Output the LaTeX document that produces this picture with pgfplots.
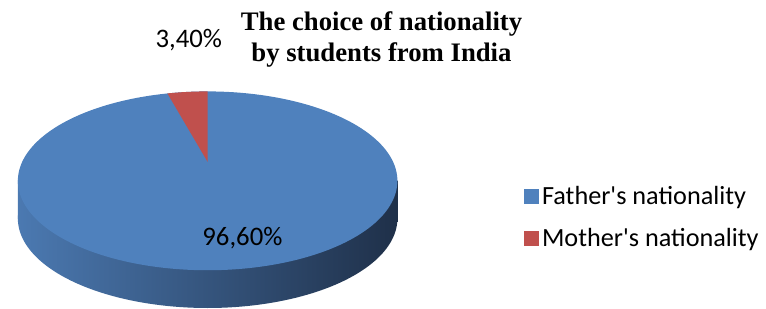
\documentclass[border=0pt]{standalone}
\usepackage{pgfplots}
\usepackage{pgfplotstable}
\pgfplotsset{compat=1.18}
\usepackage{fontspec}
\setmainfont{Liberation Serif}
\newfontfamily\calibri{Carlito}
\definecolor{pieblue}{HTML}{4F81BD}
\definecolor{piered}{HTML}{C0504D}
\definecolor{sidel}{HTML}{4B79B1}
\definecolor{sidem}{HTML}{2F4B72}
\definecolor{sided}{HTML}{1F3049}

\pgfplotstableread{
label value
Father 96.6
Mother 3.4
}\piedata

\begin{document}
\pgfplotstablegetelem{1}{value}\of\piedata
\pgfmathsetmacro{\redangle}{\pgfplotsretval*3.6}
\pgfmathsetmacro{\redstart}{270-\redangle}
\begin{tikzpicture}
\begin{axis}[
  width=766bp, height=311bp, scale only axis,
  xmin=0, xmax=766, ymin=0, ymax=311, y dir=reverse,
  hide axis, clip=false,
  legend style={at={(axis cs:519,183)}, anchor=north west, draw=none, fill=none,
    font=\calibri\fontsize{26.5}{30}\selectfont, row sep=19bp,
    nodes={inner xsep=4bp}},
  legend cell align=left,
  legend image code/.code={\fill[#1] (0bp,-7bp) rectangle (14bp,7bp);},
]
\addplot[draw=none, forget plot] coordinates {(0,0) (766,311)};
% side of the cylinder
\addplot[draw=none, forget plot, left color=sidel, middle color=sidem, right color=sided,
  domain=0:360, samples=181, variable=\t] ({204+191*cos(t)},{220+90*sin(t)});
\addplot[draw=none, forget plot, left color=sidel, middle color=sidem, right color=sided]
  coordinates {(13,182) (395,182) (395,220) (13,220)};
% top face
\addplot[draw=none, fill=pieblue, forget plot, domain=0:360, samples=181, variable=\t]
  ({204+191*cos(t)},{182+90*sin(t)});
\addplot[draw=none, fill=piered, forget plot, domain=\redstart:270, samples=20, variable=\t]
  ({204+191*cos(t)},{182+90*sin(t)}) -- (axis cs:204,163) -- cycle;
\addlegendimage{pieblue}
\addlegendentry{Father's nationality}
\addlegendimage{piered}
\addlegendentry{Mother's nationality}
\node[anchor=base, font=\bfseries\fontsize{27}{30}\selectfont] at (axis cs:379,31) {The choice of nationality};
\node[anchor=base, font=\bfseries\fontsize{27}{30}\selectfont] at (axis cs:379,62) {by students from India};
\node[anchor=base, font=\calibri\fontsize{27}{30}\selectfont] at (axis cs:185,48) {3,40\%};
\node[anchor=base, font=\calibri\fontsize{27}{30}\selectfont] at (axis cs:239,247) {96,60\%};
\end{axis}
\end{tikzpicture}
\end{document}
